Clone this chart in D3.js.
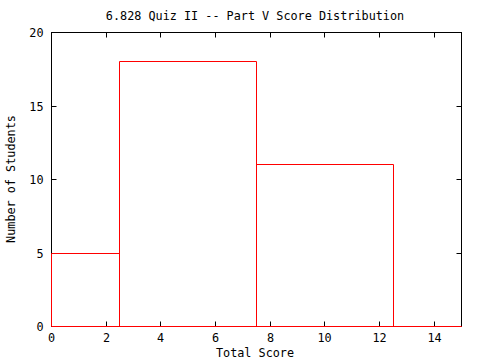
<!DOCTYPE html>
<html>
<head>
<meta charset="utf-8">
<script src="https://cdn.jsdelivr.net/npm/d3@7"></script>
<style>
body { margin: 0; background: #fff; }
text { font-family: "DejaVu Sans Mono", "Liberation Mono", monospace; font-size: 11.8px; fill: #000; }
</style>
</head>
<body>
<div id="chart"></div>
<script>
// score bins (centre of each box) and counts
var binCenters = [0, 5, 10, 15];
var counts = [5, 18, 11, 0];
var binWidth = 5;
var xTicks = [0, 2, 4, 6, 8, 10, 12, 14];
var yTicks = [0, 5, 10, 15, 20];

var width = 480, height = 360;
var margin = {top: 32, right: 19, bottom: 34, left: 51};
var w = width - margin.left - margin.right;
var h = height - margin.top - margin.bottom;

var svg = d3.select('#chart').append('svg')
	.attr('width', width)
	.attr('height', height);

var x = d3.scaleLinear().domain([0, 15]).range([0, w]);
var y = d3.scaleLinear().domain([0, 20]).range([h, 0]);

var g = svg.append('g')
	.attr('transform', 'translate(' + (margin.left + 0.5) + ',' + (margin.top + 0.5) + ')');

// frame
g.append('rect')
	.attr('width', w).attr('height', h)
	.attr('fill', 'none').attr('stroke', '#000');

// ticks, inward on all four sides (mirrored)
var tickLen = 5;
xTicks.forEach(function(t) {
	var px = Math.round(x(t));
	g.append('line').attr('x1', px).attr('x2', px).attr('y1', 0).attr('y2', tickLen).attr('stroke', '#000');
	g.append('text').attr('x', px).attr('y', h + 15).attr('text-anchor', 'middle').text(t);
});
yTicks.forEach(function(t) {
	var py = Math.round(y(t));
	g.append('line').attr('x1', 0).attr('x2', tickLen).attr('y1', py).attr('y2', py).attr('stroke', '#000');
	g.append('line').attr('x1', w).attr('x2', w - tickLen).attr('y1', py).attr('y2', py).attr('stroke', '#000');
	g.append('text').attr('x', -8).attr('y', py + 4).attr('text-anchor', 'end').text(t);
});

// boxes, clipped to the x range like gnuplot does
var xmin = x.domain()[0], xmax = x.domain()[1];
g.append('g')
	.selectAll('path.box')
	.data(binCenters)
	.enter().append('path')
	.attr('class', 'box')
	.attr('d', function(d, i) {
		var x1 = Math.round(x(Math.max(xmin, d - binWidth / 2)));
		var x2 = Math.round(x(Math.min(xmax, d + binWidth / 2)));
		var yt = Math.round(y(counts[i]));
		return 'M' + x1 + ',' + h + 'V' + yt + 'H' + x2 + 'V' + h + 'Z';
	})
	.attr('fill', 'none')
	.attr('stroke', '#f00');

// bottom ticks above the red baseline
xTicks.forEach(function(t) {
	var px = Math.round(x(t));
	if (t > 0) g.append('line').attr('x1', px).attr('x2', px).attr('y1', h - 0.5).attr('y2', h - tickLen).attr('stroke', '#000');
});

// titles
svg.append('text')
	.attr('x', 255).attr('y', 20)
	.attr('text-anchor', 'middle')
	.text('6.828 Quiz II -- Part V Score Distribution');

svg.append('text')
	.attr('x', 255).attr('y', 357)
	.attr('text-anchor', 'middle')
	.text('Total Score');

svg.append('text')
	.attr('transform', 'translate(15,179) rotate(-90)')
	.attr('text-anchor', 'middle')
	.text('Number of Students');
</script>
</body>
</html>
